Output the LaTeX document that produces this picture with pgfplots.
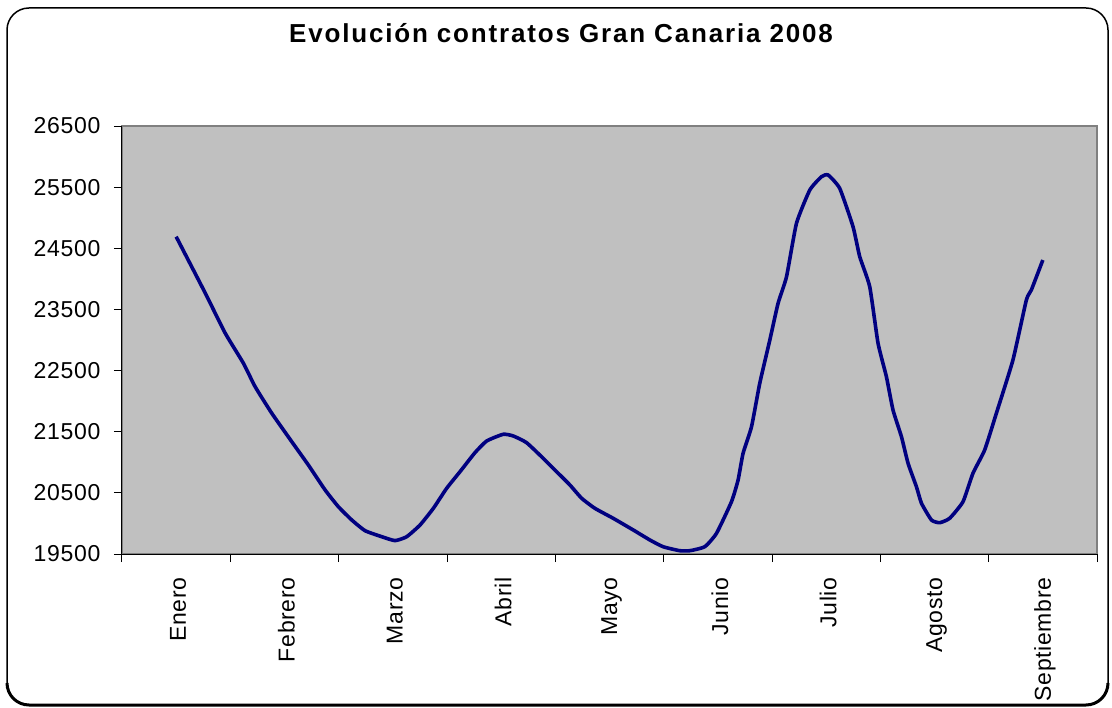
\documentclass[border=0pt]{standalone}
\usepackage{fontspec}
\setmainfont{Liberation Sans}[LetterSpace=3]
\newfontfamily\titlefont{Liberation Sans}[LetterSpace=7]
\usepackage{pgfplots}
\pgfplotsset{compat=1.18}
\definecolor{plotgray}{RGB}{192,192,192}
\definecolor{navyline}{RGB}{0,0,128}
\begin{document}
\begin{tikzpicture}[x=1pt,y=1pt]
\useasboundingbox (0,0) rectangle (1112,-708);
\draw[line width=1.5pt, rounded corners=22pt] (7,-8) rectangle (1108,-705);
\draw[line width=3pt, rounded corners=22pt] (7,-683) -- (7,-705) -- (1108,-705) -- (1108,-683);
\node[font=\titlefont\fontsize{26}{31}\selectfont\bfseries, anchor=base] at (561,-43) {Evolución contratos Gran Canaria 2008};
\begin{axis}[at={(122pt,-554pt)}, anchor=south west, scale only axis,
  width=975pt, height=428pt,
  xmin=-0.5, xmax=8.5, ymin=19500, ymax=26500,
  axis background/.style={fill=plotgray, draw=gray, line width=1.2pt},
  axis x line*=bottom, axis y line*=left,
  axis line style={black, line width=1pt, -},
  tick align=outside, major tick length=8pt, minor tick length=8pt,
  tick style={black, line width=1pt},
  ytick={19500,20500,...,26500},
  scaled y ticks=false,
  xtick={0,...,8},
  xticklabels={Enero,Febrero,Marzo,Abril,Mayo,Junio,Julio,Agosto,Septiembre},
  major x tick style={draw=none},
  minor xtick={-0.5,0.5,...,8.5},
  /pgf/number format/1000 sep={},
  /pgf/number format/assume math mode=true,
  ticklabel style={font=\fontsize{23}{27}\selectfont},
  yticklabel style={xshift=-10pt},
  xticklabel style={rotate=90, anchor=east, xshift=-12pt, yshift=-2pt},
  clip=false,
]
\addplot[navyline, line width=3.6pt, smooth, tension=0.3, line join=round] coordinates {
(0,24690) (0.268,23769) (0.452,23114) (0.621,22619) (0.729,22236) (0.883,21801)
(1.067,21337) (1.220,20956) (1.375,20547) (1.497,20274) (1.621,20056) (1.744,19881)
(1.898,19783) (2.020,19719) (2.128,19783) (2.251,19974) (2.374,20247) (2.497,20575)
(2.620,20846) (2.758,21157) (2.866,21348) (3.019,21458) (3.112,21430) (3.235,21320)
(3.388,21065) (3.512,20846) (3.635,20628) (3.743,20411) (3.865,20247) (4.034,20084)
(4.219,19893) (4.373,19729) (4.495,19619) (4.649,19554) (4.742,19554) (4.880,19619)
(4.988,19839) (5.126,20355) (5.187,20710) (5.233,21147) (5.311,21582) (5.387,22292)
(5.480,23000) (5.556,23600) (5.634,24035) (5.726,24909) (5.849,25453) (5.957,25671)
(6.018,25699) (6.125,25481) (6.248,24853) (6.310,24362) (6.402,23872) (6.479,22946)
(6.556,22400) (6.617,21855) (6.695,21418) (6.756,20983) (6.833,20601) (6.880,20329)
(6.972,20056) (7.048,20012) (7.140,20084) (7.263,20355) (7.355,20820) (7.463,21201)
(7.571,21801) (7.724,22673) (7.848,23654) (7.894,23818) (8.0,24308)
};
\end{axis}
\end{tikzpicture}
\end{document}
